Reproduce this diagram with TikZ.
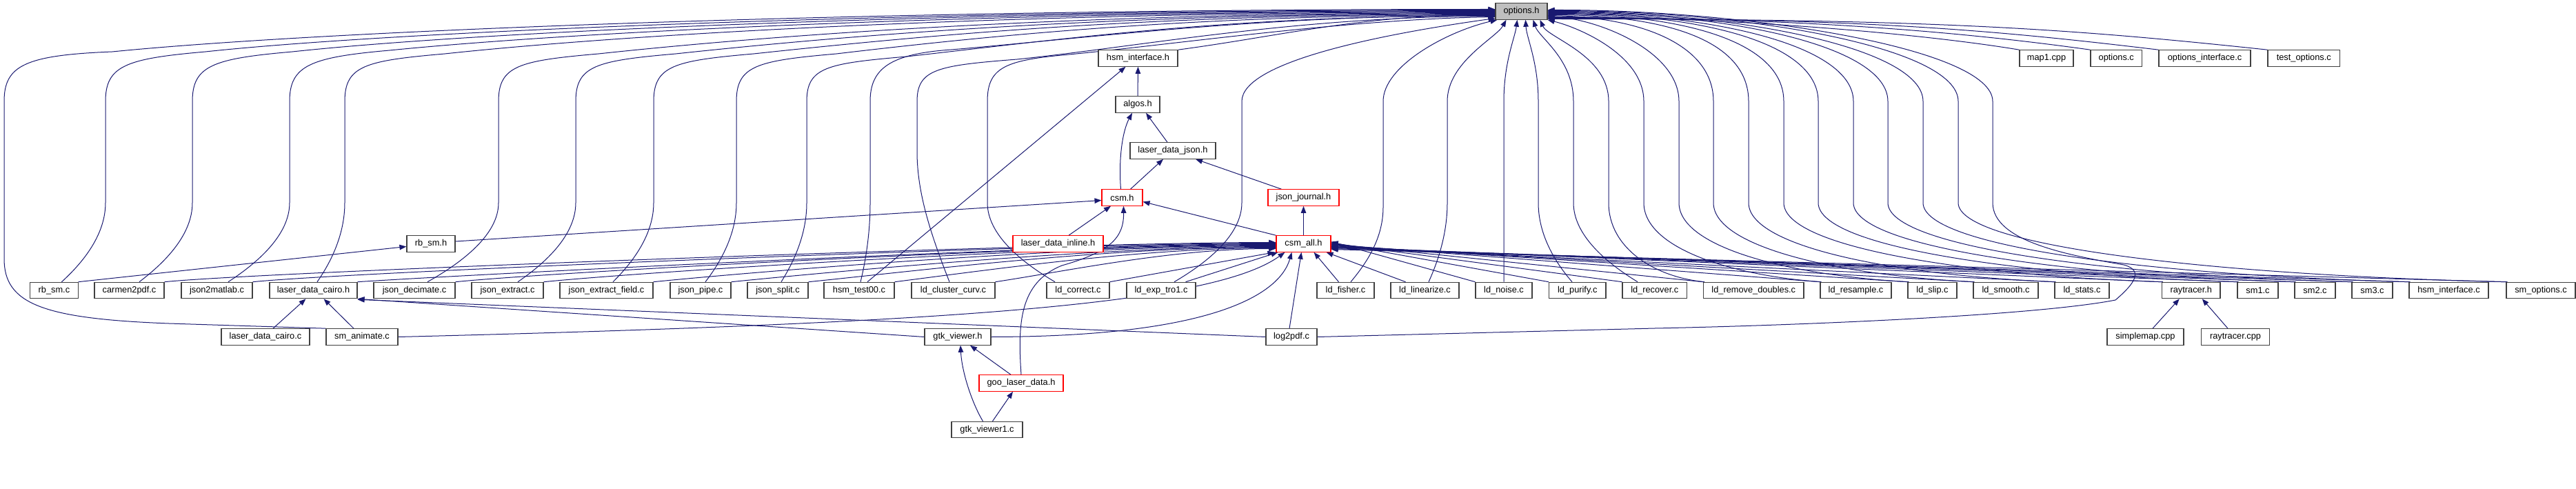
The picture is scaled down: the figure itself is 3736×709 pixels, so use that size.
\documentclass[tikz,border=0pt]{standalone}
\usepackage{fontspec}
\setmainfont{Liberation Sans}
\usetikzlibrary{arrows.meta}
\definecolor{navy}{HTML}{191970}
\pgfdeclarelayer{bg}
\pgfsetlayers{bg,main}
\tikzset{
 box/.style={draw=black!75, line width=1.1bp, fill=white, minimum height=23.5bp, inner sep=0pt, font=\fontsize{12.8bp}{15bp}\selectfont, text=black},
 rbox/.style={box, draw=red},
 gbox/.style={box, fill=black!25},
 ed/.style={draw=navy, line width=1bp, -{Triangle[length=10bp,width=7.5bp]}}
}
\newcommand{\Nd}[6][box]{\node[#1, minimum width=#3bp] (#2) at (#4,#5) {#6};}
\begin{document}
\begin{tikzpicture}[x=1bp,y=-1bp]
\useasboundingbox (0,0) rectangle (3736,709);
% ---------- nodes
\Nd[gbox]{opt}{75}{2206.5}{16.5}{options.h}
\Nd{hsmh}{115}{1650.5}{84.5}{hsm\_interface.h}
\Nd{map1}{78}{2968}{84.5}{map1.cpp}
\Nd{optc}{74.5}{3069.25}{84.5}{options.c}
\Nd{optif}{133}{3197.5}{84.5}{options\_interface.c}
\Nd{testopt}{104.5}{3341.25}{84.5}{test\_options.c}
\Nd{algos}{64}{1650}{151.5}{algos.h}
\Nd{ldj}{124}{1701}{218.5}{laser\_data\_json.h}
\Nd[rbox]{csmh}{59}{1627.5}{286.5}{csm.h}
\Nd[rbox]{jj}{103}{1890.5}{286.5}{json\_journal.h}
\Nd{rbsmh}{70}{625}{353.5}{rb\_sm.h}
\Nd[rbox]{ldinl}{131}{1534.5}{353.5}{laser\_data\_inline.h}
\Nd[rbox]{csmall}{79}{1890.5}{353.5}{csm\_all.h}
\Nd{rbsmc}{69.3}{78.4}{421}{rb\_sm.c}
\Nd{carmen}{101}{187.5}{421}{carmen2pdf.c}
\Nd{jtm}{103}{314.5}{421}{json2matlab.c}
\Nd{ldch}{127}{454.5}{421}{laser\_data\_cairo.h}
\Nd{jdec}{118}{601}{421}{json\_decimate.c}
\Nd{jext}{104}{736}{421}{json\_extract.c}
\Nd{jextf}{135}{879.5}{421}{json\_extract\_field.c}
\Nd{jpipe}{88}{1016}{421}{json\_pipe.c}
\Nd{jsplit}{88}{1128}{421}{json\_split.c}
\Nd{hsmt}{102}{1246}{421}{hsm\_test00.c}
\Nd{ldcc}{121}{1382.5}{421}{ld\_cluster\_curv.c}
\Nd{ldcor}{91}{1563.5}{421}{ld\_correct.c}
\Nd{ldexp}{100}{1684}{421}{ld\_exp\_tro1.c}
\Nd{ldfis}{83}{1951.5}{421}{ld\_fisher.c}
\Nd{ldlin}{99}{2066.5}{421}{ld\_linearize.c}
\Nd{ldnoi}{82}{2181}{421}{ld\_noise.c}
\Nd{ldpur}{82.5}{2287.75}{421}{ld\_purify.c}
\Nd{ldrec}{93.5}{2399.75}{421}{ld\_recover.c}
\Nd{ldrd}{145.4}{2543.3}{421}{ld\_remove\_doubles.c}
\Nd{ldres}{103}{2691.5}{421}{ld\_resample.c}
\Nd{ldslip}{71}{2802.5}{421}{ld\_slip.c}
\Nd{ldsmo}{94}{2909}{421}{ld\_smooth.c}
\Nd{ldsta}{79}{3019.5}{421}{ld\_stats.c}
\Nd{rth}{84.5}{3177.75}{421}{raytracer.h}
\Nd{smone}{59}{3274.5}{421}{sm1.c}
\Nd{smtwo}{59}{3357.5}{421}{sm2.c}
\Nd{smthree}{59}{3440.5}{421}{sm3.c}
\Nd{hsmc}{115}{3551.5}{421}{hsm\_interface.c}
\Nd{smopt}{100}{3685}{421}{sm\_options.c}
\Nd{ldcairoc}{128}{385}{488.5}{laser\_data\_cairo.c}
\Nd{smanim}{104}{525}{488.5}{sm\_animate.c}
\Nd{gtkv}{96}{1389}{488.5}{gtk\_viewer.h}
\Nd{logpdf}{74}{1873}{488.5}{log2pdf.c}
\Nd{smap}{111}{3111.5}{488.5}{simplemap.cpp}
\Nd{rtcpp}{98.8}{3242}{488.5}{raytracer.cpp}
\Nd[rbox]{goo}{122}{1481}{555.5}{goo\_laser\_data.h}
\Nd{gtkvone}{103}{1431.5}{623}{gtk\_viewer1.c}
% ---------- edges
\begin{pgfonlayer}{bg}
% to options.h, far left lanes
\draw[ed] (smanim.north west) -- (245,469) .. controls (60,462) and (6,440) .. (6,375) -- (6,147) .. controls (6,95) and (36,80) .. (163,75) .. controls (463,45) and (1250,13.5) .. ([yshift=3bp]opt.west);
\draw[ed] ([xshift=11bp]rbsmc.north) .. controls (121,380) and (153,340) .. (153,294) -- (153,147) .. controls (153,95) and (183,85) .. (298,75) .. controls (578,45) and (1327,14.5) .. ([yshift=2bp]opt.west);
\draw[ed] ([xshift=14.5bp]carmen.north) .. controls (240,380) and (279,340) .. (279,294) -- (279,147) .. controls (279,95) and (309,85) .. (424,75) .. controls (704,45) and (1384,15.5) .. ([yshift=1bp]opt.west);
\draw[ed] ([xshift=16.5bp]jtm.north) .. controls (375,380) and (420,340) .. (420,294) -- (420,147) .. controls (420,95) and (450,83) .. (565,73) .. controls (845,45) and (1447,16.5) .. (opt.west);
\draw[ed] ([xshift=5.5bp]ldch.north) .. controls (480,380) and (500,340) .. (500,294) -- (500,147) .. controls (500,95) and (530,88) .. (645,78) .. controls (925,48) and (1483,17.5) .. ([yshift=-1bp]opt.west);
\draw[ed] ([xshift=19bp]jdec.north) .. controls (671,380) and (723,340) .. (723,294) -- (723,147) .. controls (723,95) and (753,88) .. (868,78) .. controls (1148,48) and (1584,18.5) .. ([yshift=-2bp]opt.west);
\draw[ed] ([xshift=15bp]jext.north) .. controls (793,380) and (835,340) .. (835,294) -- (835,147) .. controls (835,95) and (865,88) .. (980,78) .. controls (1260,48) and (1634,19.5) .. ([yshift=-3bp]opt.west);
\draw[ed] ([xshift=9.5bp]jextf.north) .. controls (918,380) and (948,340) .. (948,294) -- (948,147) .. controls (948,95) and (978,88) .. (1093,78) .. controls (1373,48) and (1685,20.5) .. ([yshift=-4bp]opt.west);
\draw[ed] ([xshift=7bp]jpipe.north) .. controls (1045,380) and (1068,340) .. (1068,294) -- (1068,147) .. controls (1068,95) and (1098,88) .. (1213,78) .. controls (1450,50) and (1739,21.5) .. ([yshift=-5bp]opt.west);
\draw[ed] ([xshift=5bp]jsplit.north) .. controls (1151,380) and (1170,340) .. (1170,294) -- (1170,147) .. controls (1170,97) and (1200,92) .. (1315,82) .. controls (1530,58) and (1785,22.5) .. ([yshift=-6bp]opt.west);
\draw[ed] ([xshift=2bp]hsmt.north) .. controls (1255,380) and (1262,340) .. (1262,294) -- (1262,147) .. controls (1262,100) and (1290,78) .. (1380,72) .. controls (1580,55) and (1826,22.5) .. ([yshift=-6bp]opt.west);
\draw[ed] ([xshift=-5.5bp]ldcc.north) .. controls (1350,340) and (1330,280) .. (1330,220) -- (1330,147) .. controls (1330,100) and (1360,95) .. (1475,86) .. controls (1650,68) and (1880,24) .. ([yshift=-7bp]opt.west);
\draw[ed] ([xshift=-33.5bp]ldcor.north) .. controls (1481,380) and (1432,340) .. (1432,294) -- (1432,147) .. controls (1432,100) and (1455,88) .. (1540,80) .. controls (1700,65) and (1950,28) .. ([yshift=-8bp]opt.west);
\draw[ed] ([xshift=19bp]ldexp.north) .. controls (1752,380) and (1801,340) .. (1801,294) -- (1801,147) .. controls (1801,90) and (2000,50) .. ([yshift=-10bp]opt.west);
\draw[ed] (hsmh.north east) .. controls +(150,-20) and +(-200,2) .. ([yshift=-4bp]opt.west);
% near lanes
\draw[ed] ([xshift=7.5bp]ldfis.north) .. controls (1983,380) and (2006,345) .. (2006,300) -- (2006,147) .. controls (2006,95) and (2100,45) .. ([xshift=3bp]opt.south west);
\draw[ed] ([xshift=5.5bp]ldlin.north) .. controls (2085,380) and (2099,340) .. (2099,294) -- (2099,147) .. controls (2099,90) and (2170,55) .. ([xshift=-22bp]opt.south);
\draw[ed] (ldnoi.north) -- (2181,147) .. controls (2181,90) and (2197,55) .. ([xshift=-6bp]opt.south);
\draw[ed] ([xshift=-7.75bp]ldpur.north) .. controls (2255,380) and (2231,340) .. (2231,294) -- (2231,147) .. controls (2231,90) and (2214,55) .. ([xshift=6bp]opt.south);
\draw[ed] ([xshift=-24.75bp]ldrec.north) .. controls (2328,380) and (2282,340) .. (2282,294) -- (2282,147) .. controls (2282,85) and (2232,55) .. ([xshift=17bp]opt.south);
% right lanes
\draw[ed] ([xshift=2bp]ldrd.north west) .. controls (2400,402) and (2333,360) .. (2333,294) -- (2333,147) .. controls (2333,80) and (2245,55) .. ([xshift=27bp]opt.south);
\draw[ed] ([xshift=2bp]ldres.north west) .. controls (2513,400) and (2384,360) .. (2384,294) -- (2384,147) .. controls (2384,80) and (2290,40) .. (opt.south east);
\draw[ed] ([xshift=2bp]ldslip.north west) .. controls (2602,400) and (2435,360) .. (2435,294) -- (2435,147) .. controls (2435,75) and (2320,28) .. ([yshift=-7bp]opt.east);
\draw[ed] ([xshift=2bp]ldsmo.north west) .. controls (2675,400) and (2485,360) .. (2485,294) -- (2485,147) .. controls (2485,65) and (2380,25) .. ([yshift=-6bp]opt.east);
\draw[ed] ([xshift=2bp]ldsta.north west) .. controls (2759,400) and (2536,360) .. (2536,294) -- (2536,147) .. controls (2536,60) and (2420,22) .. ([yshift=-5bp]opt.east);
\draw[ed] ([xshift=2bp]rth.north west) .. controls (2862,400) and (2587,360) .. (2587,294) -- (2587,147) .. controls (2587,60) and (2440,20) .. ([yshift=-4bp]opt.east);
\draw[ed] ([xshift=2bp]smone.north west) .. controls (2942,400) and (2637,360) .. (2637,294) -- (2637,147) .. controls (2637,60) and (2460,19) .. ([yshift=-3bp]opt.east);
\draw[ed] ([xshift=2bp]smtwo.north west) .. controls (3009,400) and (2688,360) .. (2688,294) -- (2688,147) .. controls (2688,65) and (2480,18) .. ([yshift=-2bp]opt.east);
\draw[ed] ([xshift=2bp]smthree.north west) .. controls (3075,400) and (2738,360) .. (2738,294) -- (2738,147) .. controls (2738,65) and (2500,17) .. ([yshift=-1bp]opt.east);
\draw[ed] ([xshift=2bp]hsmc.north west) .. controls (3142,400) and (2789,360) .. (2789,294) -- (2789,147) .. controls (2789,68) and (2510,16) .. (opt.east);
\draw[ed] ([xshift=2bp]smopt.north west) .. controls (3238,400) and (2840,360) .. (2840,294) -- (2840,147) .. controls (2840,68) and (2530,15) .. ([yshift=1bp]opt.east);
\draw[ed] (logpdf.east) -- (2400,476) .. controls (2600,472) and (2950,458) .. (3068,435) .. controls (3095,412) and (3110,392) .. (3080,384) .. controls (3000,370) and (2890,350) .. (2890,294) -- (2890,147) .. controls (2890,70) and (2535,14) .. ([yshift=2bp]opt.east);
% top row to options.h
\draw[ed] (map1.north west) .. controls +(-150,-25) and +(250,0) .. ([yshift=-8bp]opt.east);
\draw[ed] (optc.north west) .. controls +(-200,-28) and +(350,0) .. ([yshift=-9bp]opt.east);
\draw[ed] (optif.north west) .. controls +(-250,-30) and +(450,0) .. ([yshift=-10bp]opt.east);
\draw[ed] (testopt.north west) .. controls +(-300,-32) and +(550,0) .. ([yshift=-11bp]opt.east);
% to csm_all.h, left group
\draw[ed] (carmen.north east) .. controls +(150,-15) and +(-300,0) .. ([yshift=2bp]csmall.west);
\draw[ed] (jtm.north east) .. controls +(150,-15) and +(-300,0) .. ([yshift=1bp]csmall.west);
\draw[ed] (ldch.north east) .. controls +(150,-10) and +(-300,0) .. (csmall.west);
\draw[ed] (jdec.north east) .. controls +(150,-15) and +(-300,0) .. ([yshift=-1bp]csmall.west);
\draw[ed] (jext.north east) .. controls +(150,-15) and +(-300,0) .. ([yshift=-2bp]csmall.west);
\draw[ed] (jextf.north east) .. controls +(150,-15) and +(-300,0) .. ([yshift=-3bp]csmall.west);
\draw[ed] (jpipe.north east) .. controls +(150,-15) and +(-250,0) .. ([yshift=-4bp]csmall.west);
\draw[ed] (jsplit.north east) .. controls +(150,-15) and +(-250,0) .. ([yshift=-5bp]csmall.west);
\draw[ed] (hsmt.north east) .. controls +(120,-15) and +(-200,0) .. ([yshift=-6bp]csmall.west);
\draw[ed] (ldcc.north east) .. controls +(100,-15) and +(-150,0) .. ([yshift=-7bp]csmall.west);
\draw[ed] (ldcor.north east) -- ([xshift=-2bp]csmall.south west);
\draw[ed] ([xshift=-15bp]ldexp.north east) -- ([xshift=3bp]csmall.south west);
\draw[ed] (smanim.east) .. controls (1400,468) and (1760,440) .. ([xshift=13bp]csmall.south west);
\draw[ed] (gtkv.east) .. controls (1750,488) and (1855,430) .. ([xshift=23bp]csmall.south west);
\draw[ed] ([xshift=-3bp]logpdf.north) -- ([xshift=37bp]csmall.south west);
\draw[ed] ([xshift=-10bp]ldfis.north) -- ([xshift=-25bp]csmall.south east);
\draw[ed] ([xshift=-28bp]ldlin.north) -- ([xshift=-7bp]csmall.south east);
% to csm_all.h, right group
\draw[ed] (ldnoi.north west) -- ([yshift=3bp]csmall.east);
\draw[ed] (ldpur.north west) -- ([yshift=2bp]csmall.east);
\draw[ed] (ldrec.north west) -- ([yshift=1bp]csmall.east);
\draw[ed] (ldrd.north west) -- (csmall.east);
\draw[ed] (ldres.north west) -- ([yshift=-1bp]csmall.east);
\draw[ed] (ldslip.north west) -- ([yshift=-2bp]csmall.east);
\draw[ed] (ldsmo.north west) -- ([yshift=-3bp]csmall.east);
\draw[ed] (ldsta.north west) -- ([yshift=-4bp]csmall.east);
\draw[ed] (rth.north west) -- ([yshift=-4bp]csmall.east);
\draw[ed] (smone.north west) -- ([yshift=-5bp]csmall.east);
\draw[ed] (smtwo.north west) -- ([yshift=-5bp]csmall.east);
\draw[ed] (smthree.north west) -- ([yshift=-6bp]csmall.east);
\draw[ed] (hsmc.north west) -- ([yshift=-7bp]csmall.east);
\draw[ed] (smopt.north west) -- ([yshift=-8bp]csmall.east);
% other edges
\draw[ed] (csmall.north) -- (jj.south);
\draw[ed] (csmall.north west) -- ([yshift=-6bp]csmh.east);
\draw[ed] ([xshift=20bp]jj.north west) -- ([xshift=33bp]ldj.south);
\draw[ed] ([xshift=-2bp]csmh.north) .. controls (1622,230) and (1628,190) .. ([xshift=-8bp]algos.south);
\draw[ed] ([xshift=12bp]csmh.north) -- ([xshift=-14bp]ldj.south);
\draw[ed] ([xshift=-8bp]ldj.north) -- ([xshift=12bp]algos.south);
\draw[ed] (algos.north) -- (hsmh.south);
\draw[ed] ([xshift=12bp]hsmt.north) -- ([xshift=-18bp]hsmh.south);
\draw[ed] ([xshift=15.5bp]ldinl.north) -- ([xshift=-16.5bp]csmh.south);
\draw[ed] ([yshift=3.5bp]rbsmh.east) -- ([yshift=-4bp]csmh.west);
\draw[ed] (goo.north) .. controls (1476,470) and (1478,410) .. (1540,385) .. controls (1610,365) and (1630,345) .. ([xshift=2bp]csmh.south);
\draw[ed] (rbsmc.north east) -- ([yshift=-4bp]rbsmh.west);
\draw[ed] ([xshift=11bp]ldcairoc.north) -- ([xshift=-11bp]ldch.south);
\draw[ed] ([xshift=-12bp]smanim.north) -- ([xshift=15bp]ldch.south);
\draw[ed] (gtkv.west) -- (ldch.south east);
\draw[ed] (logpdf.west) -- ([yshift=-1bp]ldch.south east);
\draw[ed] ([xshift=-6bp]gtkvone.north) .. controls (1410,585) and (1395,540) .. ([xshift=4bp]gtkv.south);
\draw[ed] ([xshift=8bp]gtkvone.north) -- ([xshift=-12bp]goo.south);
\draw[ed] ([xshift=-15bp]goo.north) -- ([xshift=18bp]gtkv.south);
\draw[ed] ([xshift=10.5bp]smap.north) -- ([xshift=-17bp]rth.south);
\draw[ed] ([xshift=-11bp]rtcpp.north) -- ([xshift=16bp]rth.south);
\end{pgfonlayer}
\end{tikzpicture}
\end{document}
